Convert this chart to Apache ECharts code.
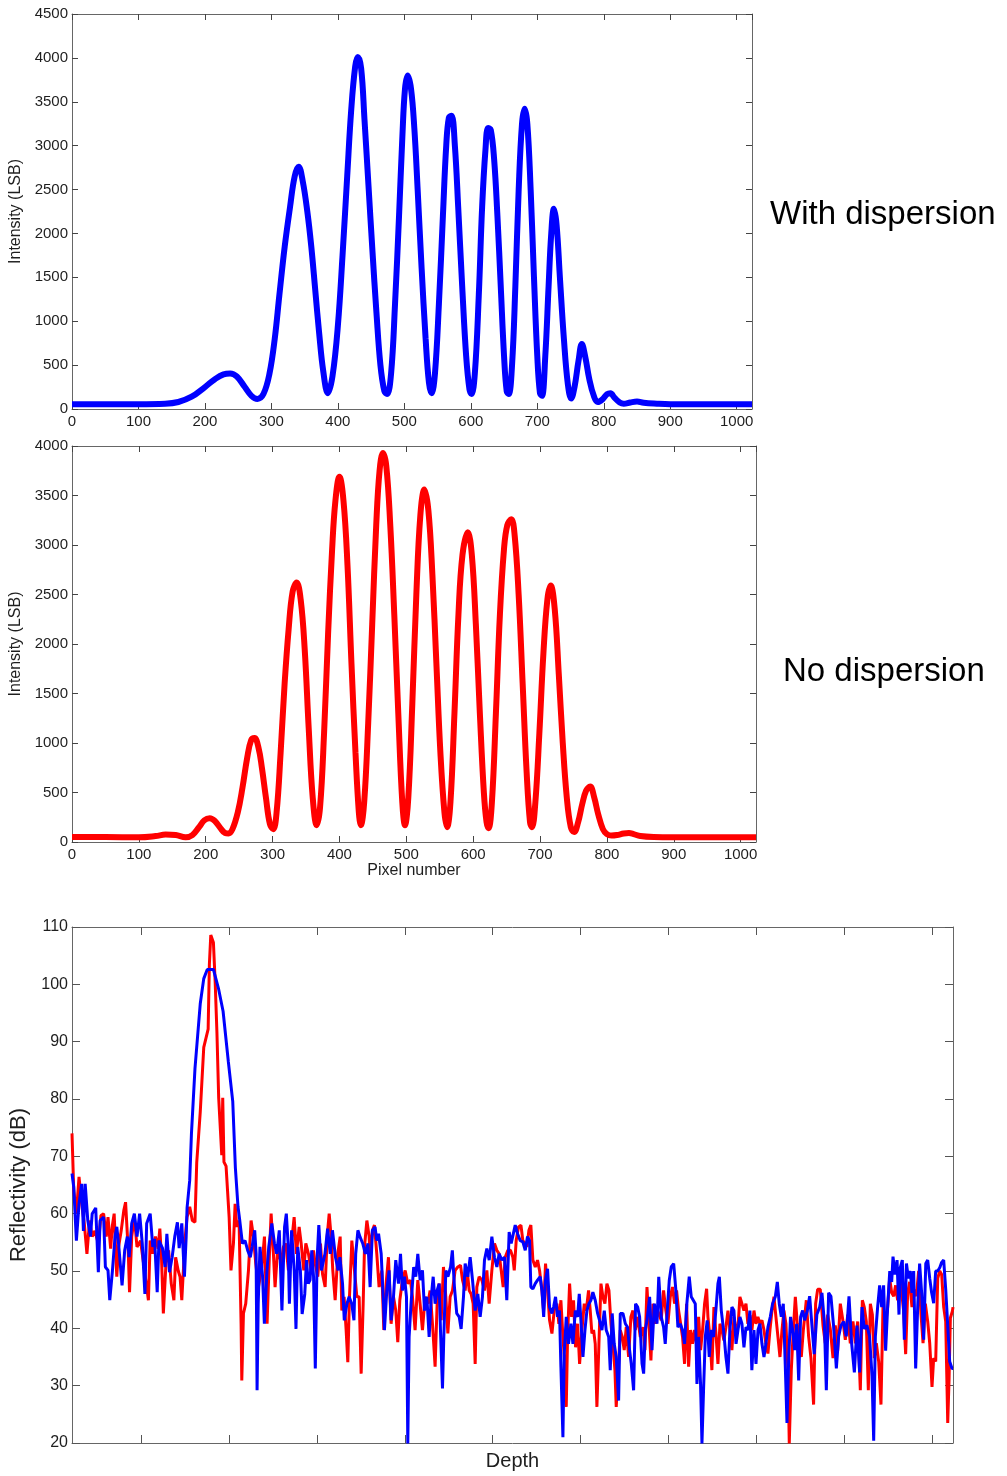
<!DOCTYPE html>
<html>
<head>
<meta charset="utf-8">
<script src="https://cdn.jsdelivr.net/npm/echarts@6/dist/echarts.min.js"></script>
<style>
html,body{margin:0;padding:0;background:#fff;}
#chart{width:1007px;height:1476px;}
</style>
</head>
<body>
<div id="chart"></div>
<script>
// ---------- Data ----------
// Top panel: interference spectrum with dispersion (pixel, intensity LSB)
const withDispersion = [[0,55],[50,55],[100,55],[140,60],[160,80],[180,140],[200,250],[215,340],[228,395],[238,405],[248,370],[260,250],[270,150],[279,115],[288,170],[297,400],[305,800],[312,1300],[320,1850],[328,2300],[335,2650],[341,2760],[347,2600],[354,2250],[360,1850],[366,1350],[372,850],[378,430],[385,180],[392,380],[400,950],[407,1750],[414,2650],[420,3400],[426,3900],[430,4010],[435,3880],[440,3300],[446,2550],[452,1800],[458,1100],[464,500],[470,200],[474,170],[480,400],[486,1200],[492,2200],[497,3100],[501,3650],[505,3800],[510,3650],[515,3200],[520,2500],[526,1600],[532,800],[537,300],[541,180],[546,400],[552,1200],[558,2200],[563,3000],[567,3320],[571,3340],[576,3000],[581,2300],[587,1400],[593,600],[598,220],[601,170],[606,400],[612,1300],[617,2300],[622,2950],[626,3200],[630,3180],[635,2850],[640,2200],[645,1400],[650,600],[654,200],[657,170],[662,500],[667,1400],[672,2500],[677,3250],[681,3420],[685,3250],[690,2500],[695,1500],[700,600],[704,180],[707,150],[712,600],[717,1400],[721,2000],[725,2280],[729,2100],[734,1500],[740,800],[746,280],[751,120],[756,250],[762,550],[767,740],[772,600],[778,350],[785,150],[791,80],[798,110],[805,170],[810,180],[816,130],[824,75],[830,60],[840,75],[850,85],[860,70],[880,60],[900,55],[950,55],[1000,55],[1023,55]];

// Middle panel: interference spectrum without dispersion
const noDispersion = [[0,50],[50,50],[100,48],[125,60],[140,75],[155,70],[170,48],[180,70],[190,150],[198,220],[206,240],[214,210],[222,140],[229,90],[234,85],[240,130],[248,300],[255,550],[262,850],[268,1030],[273,1050],[279,950],[284,750],[290,450],[296,180],[301,130],[306,300],[312,900],[318,1600],[324,2150],[330,2530],[336,2620],[342,2450],[348,1950],[354,1150],[360,450],[366,170],[371,350],[377,1100],[383,2100],[389,2950],[394,3450],[400,3690],[406,3450],[412,2800],[418,1800],[424,900],[429,300],[432,170],[437,400],[443,1200],[449,2200],[455,3200],[460,3750],[465,3930],[470,3800],[476,3200],[482,2300],[488,1300],[494,400],[498,170],[503,450],[509,1400],[515,2500],[521,3300],[527,3560],[533,3350],[539,2700],[545,1800],[551,900],[557,300],[561,150],[566,400],[572,1300],[578,2300],[584,2900],[592,3130],[598,2900],[604,2200],[610,1300],[616,500],[620,200],[623,140],[628,400],[634,1300],[640,2300],[646,2950],[651,3200],[657,3260],[662,3100],[668,2500],[674,1600],[680,700],[685,200],[688,150],[693,400],[699,1100],[705,1900],[711,2450],[716,2590],[722,2350],[728,1700],[734,1000],[740,450],[746,150],[751,100],[757,200],[763,380],[769,520],[775,560],[781,450],[787,280],[794,130],[800,80],[807,65],[815,70],[825,85],[833,90],[840,80],[850,60],[870,50],[900,48],[950,48],[1000,48],[1023,48]];

// Bottom panel: reflectivity (dB) vs depth
const reflNoDisp = [[0,74],[2,64],[5,60],[8,66.4],[11,61.7],[14,58.3],[17,53],[20,58.8],[23,56],[26,57],[30,54.8],[33,59.7],[36,60],[39,56],[41,59.4],[44,53.9],[46,58],[48,60],[51,49],[53,54.2],[56,57],[59,60.6],[61,62],[64,53.6],[65.5,46.3],[68,56],[71,59.4],[74,54.2],[78,55.3],[80,53],[84,48.4],[87,44.9],[89,55.3],[92,53],[95,56],[98,53.9],[100,57.4],[102,51.9],[104,42.6],[107,51.3],[110,53.6],[113,47.8],[116,44.9],[118,52.4],[121,50],[123,49],[125,44.9],[127,50.7],[129,56],[131,59.4],[134,61.2],[137,58.8],[140,58.5],[142,68.9],[146,77.7],[150,89],[155,92.2],[156.4,103.5],[158,108.6],[161,107.3],[163,100.4],[165,91.6],[167,80.2],[169,80.2],[170.5,70.2],[171.6,80.2],[173,69],[175.4,68.3],[178.9,59.4],[181,50.1],[183.8,54.8],[185.7,61.7],[187.6,57.7],[190.2,58.8],[192.5,40.8],[193.3,30.9],[195.2,42.6],[197.8,44.3],[200.9,50.1],[203.9,58.8],[206.6,56],[209.2,51.3],[212.3,47.2],[216.1,50.7],[219.1,56],[222.1,40.8],[224.8,53],[226.7,60],[229.3,53],[231.2,47.2],[234.3,54.2],[238.1,51.3],[240.7,54.2],[243.4,54.8],[246.4,50.1],[250.2,55.3],[252.9,59.4],[255.5,53],[258.6,57.7],[260.9,54.8],[263.9,50.1],[266.2,54.8],[269.2,53],[272.2,50.1],[274.9,53.6],[276.8,51.3],[279.8,49],[282.9,54.8],[285.2,49.5],[288.2,47.2],[290.5,56],[292.8,60],[295,56],[296.9,50.1],[299.6,44.9],[302.6,53],[305.3,56],[307.2,43.1],[309.8,45.5],[312.1,39.7],[314,34.1],[315.9,45.5],[318.6,55.3],[321.6,50.1],[324.3,45.5],[326.9,45.5],[329.2,32.1],[331.5,44.3],[333,54.2],[335.7,58.8],[338.3,56],[339.4,52.4],[342.1,57.1],[344.3,58],[347,53],[349.6,47.2],[352.7,50.1],[355,39.7],[357.6,47.8],[360.3,52.4],[363.3,40.8],[366,45.5],[368.6,43.1],[370.9,37.6],[373.2,44.9],[376.2,48.4],[379.3,50.1],[382.3,47.8],[385.3,48.4],[387.6,45.5],[390.6,39.7],[393.7,48.4],[396.3,44.3],[399,39.7],[402,45.5],[405.1,44.3],[407.7,46.6],[410.4,40.8],[413.4,33.3],[415.7,44.3],[418,47.8],[420.3,41.4],[422.9,50.7],[425.6,45.5],[427.9,39.1],[430.5,45.5],[433.2,46.6],[436.2,50.1],[439.2,50.7],[442.3,51],[444.6,48.4],[447.6,46.6],[449.9,50.1],[452.2,46.6],[454.4,46],[456.7,44.3],[459,33.8],[460.9,47.2],[463.5,49],[466.6,48.4],[469.6,46.6],[472.3,50.1],[474.9,44.3],[478,50.1],[481,54.8],[483.7,53.6],[486.3,53],[488.6,50.1],[490.9,47.2],[493.2,52.4],[496.2,53.6],[499.2,53.6],[501.9,52.4],[503.5,50.1],[505.7,55.3],[508.4,57.7],[511.1,58],[513.3,55.3],[516,54.8],[517.9,54.2],[520.2,57.1],[522.4,58],[524.7,51.9],[527.4,50.7],[530,51.9],[532.3,50.1],[535,46.6],[536.9,43.1],[539.1,51.3],[541.4,46.6],[543.7,41.4],[546.4,39.1],[549,43.1],[552.1,44.3],[554.3,40.8],[556.6,44.9],[558.9,38.5],[561.5,32.7],[562.7,26.3],[564.2,38.5],[566.5,47.8],[568.8,42],[571,44.9],[573.3,36.7],[575.6,40.8],[577.9,33.8],[580.5,39.7],[583.2,44.3],[585.5,43.1],[588.1,46.6],[590,43.1],[591.9,39.1],[593.8,39.7],[595.7,37.3],[597.6,26.3],[599.9,37.3],[602.2,47.8],[604.4,45.5],[606.7,44.3],[609,47.8],[611.3,46.6],[613.6,40.8],[615.8,37.3],[618.1,32.7],[619.6,26.3],[621.9,32.7],[624.2,39.7],[626.5,38.5],[628.7,36.2],[631,40.2],[633.7,35],[636.3,42],[638.6,43.1],[641.3,39.7],[643.9,42],[647,38.5],[650,40.2],[652.3,36.2],[654.6,47.2],[656.8,40.8],[659.1,34.4],[661.4,44.3],[664,40.8],[666.7,43.1],[668.6,43.1],[670.8,41.4],[673.5,46.6],[676.1,43.1],[678.4,40.8],[681.1,45.5],[683.7,47.2],[686,44.3],[688.3,46.6],[690.6,43.1],[692.9,40.8],[695.1,38.5],[697.4,33.8],[699.7,44.3],[702,33.3],[704.2,39.7],[706.5,37.3],[708.8,39.7],[711.1,37.3],[713.4,42],[715.6,36.2],[717.9,39.7],[720.2,44.3],[722.5,46.9],[724,42],[726.3,38.5],[728.5,32.7],[730.8,43.7],[733.1,39.1],[735.4,33.8],[737.7,40.8],[739.9,39.7],[742.2,37.9],[744.5,40.2],[746.8,43.1],[749,39.7],[751.3,36.2],[753.6,42],[755.9,39.7],[758.2,40.2],[760.4,45.5],[762.7,44.3],[765,43.1],[767.3,44.3],[769.5,40.8],[771.8,42.3],[774.1,39.7],[776.4,43.1],[778.7,40.8],[780.9,42],[783.2,40.8],[785.5,41.4],[787.8,39.7],[790,37.3],[792.3,35.6],[794.6,39.7],[796.9,43.1],[799.2,45.5],[801.4,42],[803.7,38.5],[806,35],[808.3,39.7],[810.5,43.1],[812.8,40.8],[815.1,32.7],[816.6,19.9],[818.9,32.7],[821.2,39.7],[823.5,45.5],[825.7,40.8],[828,37.3],[830.3,35],[832.6,39.7],[834,41.8],[836,44.9],[838.6,38.6],[841.3,34.8],[844.3,26.7],[846.6,44.3],[848.9,46.8],[851.9,46.8],[855,40.5],[857.6,37.4],[860.3,42.4],[863.3,39.9],[866.4,34.8],[869,40.5],[871.7,36.1],[874.7,44.3],[877.8,41.2],[880.4,38],[883.1,42.4],[886.1,37.4],[889.1,41.2],[891.8,37.4],[894.5,41.2],[897.5,29.2],[899.8,44.9],[902,43.7],[904.3,41.2],[906.6,29.2],[908.9,44.3],[911.2,42.4],[913.4,34.8],[915.7,37.4],[918.4,34.2],[921,26.7],[923.3,43.7],[926,40.5],[928.6,43.7],[930.9,48.7],[933.2,46.2],[935.5,45.6],[937.7,47.5],[940,44.9],[942.3,48.7],[944.6,46.2],[946.8,43],[949.1,35.5],[951.4,46.2],[953.7,48.1],[956.3,43.7],[959,46.8],[961.3,45.6],[963.9,50],[966.6,42.4],[968.9,37.4],[971.5,44.3],[974.2,41.2],[976.5,37.4],[979.1,29.8],[981,34.8],[983.3,34.2],[985.6,48.7],[987.9,50],[990.1,49.4],[992.4,43.7],[994.7,41.2],[997,23.5],[998.5,31],[1000,41.8],[1002.3,43],[1003,43.7]];

const reflWithDisp = [[0,67],[2,64.6],[5,55.3],[8,61.7],[11,65.2],[13,57],[15,65.2],[18,58.8],[21,56],[23,60],[27,61],[30,49.8],[32,58.8],[36,59.4],[38,50.7],[41,50.1],[43,44.9],[46,50],[49,56],[51,57.7],[53,54.8],[57,47.5],[60,53.6],[63,56],[65,52.4],[68,58.3],[71,60],[74,56],[77,60],[80,54.8],[83,46],[85,58.3],[89,60],[92,54.2],[94,55.6],[97,46.3],[99,55.3],[103,54],[106,50.7],[108,56.5],[111,49.8],[114,52.4],[117,56],[120,58.5],[122,54],[125,58.3],[128,49],[130,56],[131,61],[134,65.8],[136,74],[140,85.3],[146,96.6],[150,101],[154,102.6],[161,102.6],[167,99.1],[172,95.3],[178,86.5],[183,79.6],[186,68],[189,61.2],[191,58.8],[194,54.8],[197,55.3],[200,53.6],[203,52.4],[205,54.2],[208,57.1],[209.6,53],[210.7,29.2],[212,44.3],[214,54.2],[217,49],[219,40.8],[222,50.1],[224,54.2],[227.5,58.3],[230.5,54.8],[233,53],[236,57.1],[239,43.1],[242,57.7],[244,60],[246,54.8],[247.5,44.3],[250,57.1],[253,50.1],[255,39.9],[257,54.2],[260,50.1],[262,42.5],[265,46],[267,51.9],[269,47.8],[271,48.4],[273,53.6],[275,49],[277,33],[279,51.9],[281,58],[284,50.1],[288,53],[291,57.4],[294,53],[296.5,57.1],[300,52.4],[303,50.1],[305,52.4],[308,47.8],[310,41.4],[313,44.3],[315.5,45.5],[318.5,44.3],[321,41.4],[323,53],[325.5,57.1],[328,55.9],[331,54.8],[334,53],[337,54.8],[339.4,47.2],[342,57.1],[345,57.7],[347,55.3],[349,56.5],[352,53],[354.6,44.3],[355.7,39.7],[358.4,46.6],[361,50.1],[363.3,41.4],[366,45.5],[368.6,51.9],[371.7,47.8],[374,53],[376.2,46.6],[378.5,49],[380.8,45.5],[382.3,19.9],[383.8,38.5],[386,44.3],[389,50.7],[391.4,49],[393.7,53],[396.3,48.4],[399,50.1],[401.3,43.1],[404,45.5],[406.6,38.5],[409,45.5],[411.2,49],[413.4,44.3],[415.7,46.6],[418,47.8],[419.5,39.7],[421.8,29.5],[423.3,38.5],[425.6,50.1],[428,49],[431,50.7],[433,53.6],[435.4,47.2],[438,42.6],[440.8,42],[443,39.9],[445.7,45.5],[447.6,51.3],[450.6,49],[453.3,52.4],[456,48.4],[459,43.1],[462,46],[464.7,42],[467.3,45.5],[469.6,51.9],[472.3,53.9],[475,51.9],[478,56],[481,52.4],[483.7,50.7],[486.3,53],[489.4,51.9],[492.4,52.4],[495,44.9],[497.7,56.8],[500,54.8],[502,55.1],[504.6,58],[507.3,56.5],[510.3,55.3],[513.3,55.1],[516,53.6],[518.6,56],[520.9,55.3],[522.4,47.2],[524.7,46.9],[527.4,47.8],[530,48.4],[533,49],[535,46.6],[537,42],[539,48.4],[541.4,50.4],[543.7,43.7],[546.4,42.6],[548.3,43.7],[550.5,45.5],[552.8,42],[555,43.1],[556.6,33.3],[558.9,21],[560.4,35.6],[562.7,42],[565.3,37.3],[568,40.8],[570.3,37.3],[573,43.1],[575.6,42],[577.5,46],[579.4,41.4],[581.7,35],[584,39.7],[586.2,43.1],[588.5,44.3],[590.8,44.9],[593,46.3],[595.7,44.9],[598.4,42.6],[600.6,41.4],[603.3,39.7],[606,43.1],[608.2,39.7],[611,38.5],[612.8,32.7],[615,42.6],[617.3,37.3],[619.6,35],[622.3,27.4],[624.2,42.6],[627.2,42.6],[630,40.8],[632.5,40.2],[634.8,36.2],[636.7,33.8],[639.4,29.2],[641.6,44.3],[644,43.7],[646.2,42],[649,33.8],[650.8,32.1],[652.7,39.7],[654.6,41.4],[657.6,45.5],[660.3,36.2],[663,44.3],[666,40.8],[668,49],[670.8,42],[673.5,40.2],[675.4,37.3],[677.7,43.1],[680,48.4],[682.2,50.7],[685,51.3],[687.5,46.6],[689.8,40.2],[692.5,40.8],[695,39.7],[697.4,37.3],[700,44.3],[702.7,49],[705,45.5],[707.3,44.9],[709.6,44.3],[711.5,30.3],[713.4,38.5],[715.6,30.3],[717.2,19.9],[719,29.2],[721,38.5],[723.2,41.4],[725.5,35],[727.8,39.7],[730.4,38.5],[733,43.1],[735.4,47.8],[737,49],[739.2,43.1],[741.8,39.7],[744.5,35],[746.8,32.1],[749,39.7],[751.3,43.7],[753.6,43.1],[756,37.3],[758.2,39.7],[760.4,42],[762.7,40.8],[765,36.7],[767.3,40.2],[769.5,39.7],[771.8,43.1],[774,32.7],[776.4,39.7],[778.7,33.8],[781,39.7],[783.2,40.8],[785.5,37.3],[787.8,35],[790,37.3],[792.3,40.2],[795,42],[797.6,44.3],[800.7,45.5],[803,48.1],[805.2,44.3],[807.5,42],[809.8,44.3],[812,33.8],[814,23.5],[816,35],[818,42],[820.4,39.7],[822.7,36.2],[825,40.8],[827.3,30.9],[829.5,42],[831.8,43.1],[834,41.4],[837,43],[839.8,45.6],[842.4,40.5],[845,35.5],[848,42.4],[851.2,43.7],[853.8,46.2],[856.5,41.2],[858.8,29.2],[861.4,46.2],[864,45.6],[867,40.5],[870.2,33],[872.8,38.6],[875.5,40.5],[878.5,41.2],[881.5,38.6],[884.6,45.6],[887.6,37.4],[890.7,32.3],[893.7,40.5],[896.7,32.3],[899.4,43.7],[902,39.9],[905,40.5],[908,38.6],[910.8,31.7],[912.7,20.4],[914.6,38.6],[917.2,43.7],[919.5,47.5],[921.8,43.7],[924,47.5],[926.3,36.1],[928.6,43.7],[931,50],[933.2,48.1],[934.7,52.5],[937,49.4],[939.3,51.9],[941.5,42.4],[943,50.6],[945.3,51.9],[947.6,38],[950,51.3],[952.2,48.7],[954.4,50],[956.3,46.2],[958.2,50],[960.5,33],[962.8,43.7],[965,51.3],[967.3,46.2],[969.6,38],[972,51.3],[974.2,51.9],[976.5,48.7],[978.7,46.2],[981,44.4],[983.3,50],[985.6,50],[988,50.6],[990,51.5],[992.4,51.9],[994.7,46.8],[997,40.5],[999.2,34.2],[1001.9,33],[1003,33]];

// Tick positions
const depthTicks = [79,179,279,379,479,579,679,779,879,979];

// ---------- Chart ----------
const FONT = '"Liberation Sans", Arial, Helvetica, sans-serif';
const AX = '#666';
const TXT = '#1e1e1e';
const chart = echarts.init(document.getElementById('chart'), null, {renderer:'canvas'});
const plain = v => String(v);

function xAx(grid, pos, opts) {
  return Object.assign({
    type:'value', gridIndex:grid, position:pos, min:0, max:1023, interval:100,
    axisLine:{show:true, onZero:false, lineStyle:{color:AX, width:1}},
    axisTick:{show:true, inside:true, length:6, lineStyle:{color:'#444'}},
    axisLabel:{show:pos==='bottom', color:TXT, fontSize:15, fontFamily:FONT, margin:5, showMaxLabel:false, formatter:plain},
    splitLine:{show:false}
  }, opts || {});
}
function yAx(grid, pos, min, max, interval, opts) {
  return Object.assign({
    type:'value', gridIndex:grid, position:pos, min:min, max:max, interval:interval,
    axisLine:{show:true, onZero:false, lineStyle:{color:AX, width:1}},
    axisTick:{show:true, inside:true, length:6, lineStyle:{color:'#444'}},
    axisLabel:{show:pos==='left', color:TXT, fontSize:15, fontFamily:FONT, margin:4, formatter:plain},
    splitLine:{show:false}
  }, opts || {});
}

const depthX = (pos) => ({
  type:'value', gridIndex:2, position:pos, min:0, max:1003,
  axisLine:{show:true, onZero:false, lineStyle:{color:AX, width:1}},
  axisTick:{show:true, inside:true, length:8, customValues:depthTicks, lineStyle:{color:'#555'}},
  axisLabel:{show:false, customValues:depthTicks},
  splitLine:{show:false}
});

const option = {
  animation:false,
  backgroundColor:'#fff',
  textStyle:{fontFamily:FONT},
  grid:[
    {left:72, top:14, width:680, height:395, containLabel:false, outerBoundsMode:'none'},
    {left:72, top:446, width:684, height:396, containLabel:false, outerBoundsMode:'none'},
    {left:72, top:927, width:881, height:516, containLabel:false, outerBoundsMode:'none'}
  ],
  xAxis:[
    xAx(0,'bottom'),
    xAx(0,'top'),
    xAx(1,'bottom',{name:'Pixel number', nameLocation:'middle', nameGap:21,
      nameTextStyle:{color:TXT, fontSize:16, fontFamily:FONT}}),
    xAx(1,'top'),
    Object.assign(depthX('bottom'), {name:'Depth', nameLocation:'middle', nameGap:8,
      nameTextStyle:{color:TXT, fontSize:20, fontFamily:FONT, verticalAlign:'top'}}),
    depthX('top')
  ],
  yAxis:[
    yAx(0,'left',0,4500,500,{name:'Intensity (LSB)', nameLocation:'middle', nameGap:41,
      nameTextStyle:{color:TXT, fontSize:16, fontFamily:FONT}}),
    yAx(0,'right',0,4500,500),
    yAx(1,'left',0,4000,500,{name:'Intensity (LSB)', nameLocation:'middle', nameGap:41,
      nameTextStyle:{color:TXT, fontSize:16, fontFamily:FONT}}),
    yAx(1,'right',0,4000,500),
    yAx(2,'left',20,110,10,{name:'Reflectivity (dB)', nameLocation:'middle', nameGap:35,
      axisTick:{show:true, inside:true, length:8, lineStyle:{color:'#555'}},
      axisLabel:{show:true, color:TXT, fontSize:16, fontFamily:FONT, margin:4, formatter:plain},
      nameTextStyle:{color:TXT, fontSize:22, fontFamily:FONT}}),
    yAx(2,'right',20,110,10,{axisTick:{show:true, inside:true, length:8, lineStyle:{color:'#555'}}})
  ],
  series:[
    {type:'line', xAxisIndex:0, yAxisIndex:0, data:withDispersion, smooth:0.4, symbol:'none',
      lineStyle:{color:'#0000ff', width:6}},
    {type:'line', xAxisIndex:2, yAxisIndex:2, data:noDispersion, smooth:0.4, symbol:'none',
      lineStyle:{color:'#ff0000', width:6}},
    {type:'line', xAxisIndex:4, yAxisIndex:4, data:reflNoDisp, symbol:'none',
      lineStyle:{color:'#ff0000', width:3}},
    {type:'line', xAxisIndex:4, yAxisIndex:4, data:reflWithDisp, symbol:'none',
      lineStyle:{color:'#0000ff', width:3}}
  ],
  graphic:[
    {type:'text', x:770, y:215, style:{text:'With dispersion', font:'33px ' + FONT, fill:'#000', verticalAlign:'middle'}},
    {type:'text', x:783, y:672, style:{text:'No dispersion', font:'33px ' + FONT, fill:'#000', verticalAlign:'middle'}}
  ]
};
chart.setOption(option);
</script>
</body>
</html>
